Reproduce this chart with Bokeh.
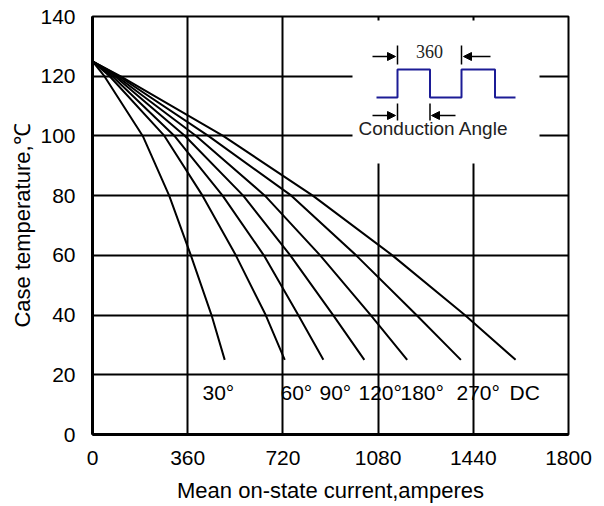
from bokeh.plotting import figure
from bokeh.models import Range1d, FixedTicker, ColumnDataSource, Arrow, NormalHead, Label
from bokeh.core.properties import value
from bokeh.embed import file_html
from bokeh.resources import INLINE

# ---------------- data ----------------
temps = [125, 120, 100, 80, 60, 40, 25]          # case temperature, degC
cur_30 = [0, 45, 190, 290, 372, 450, 500]
cur_60 = [0, 65, 272, 416, 542, 655, 727]
cur_90 = [0, 75, 310, 492, 648, 778, 873]
cur_120 = [0, 85, 350, 570, 748, 910, 1028]
cur_180 = [0, 92, 392, 652, 861, 1052, 1190]
cur_270 = [0, 100, 438, 752, 997, 1225, 1393]
cur_dc = [0, 105, 494, 833, 1134, 1408, 1600]
series = [cur_30, cur_60, cur_90, cur_120, cur_180, cur_270, cur_dc]
curve_labels = ["30°", "60°", "90°", "120°", "180°", "270°", "DC"]
x_ticks = [0, 360, 720, 1080, 1440, 1800]
y_ticks = [0, 20, 40, 60, 80, 100, 120, 140]

# ---------------- layout helpers ----------------
FONT = "Liberation Sans"
W, H = 604, 506
FL, FR, FT, FB = 92, 568, 16, 434   # frame edges in figure px


def dx(px):  # reference px -> data x
    return (px - 92) / (568 - 92) * 1800


def dy(py):  # reference px -> data y
    return (434 - py) / (434 - 16) * 140


p = figure(width=W, height=H, output_backend="svg", toolbar_location=None,
           x_range=Range1d(0, 1800), y_range=Range1d(0, 140),
           min_border_left=FL, min_border_right=W - FR,
           min_border_top=FT, min_border_bottom=H - FB)
p.background_fill_color = "white"
p.border_fill_color = "white"
p.outline_line_color = "black"
p.outline_line_width = 2
p.outline_line_alpha = 1

for ax, ticks in ((p.xaxis, x_ticks), (p.yaxis, y_ticks)):
    ax.ticker = FixedTicker(ticks=ticks)
    ax.axis_line_width = 3
    ax.axis_line_color = "black"
    ax.major_tick_line_color = None
    ax.minor_tick_line_color = None
    ax.major_tick_out = 0
    ax.major_tick_in = 0
    ax.major_label_text_font = FONT
    ax.major_label_text_font_size = "21px"
    ax.major_label_text_color = "black"
    ax.axis_label_text_font = FONT
    ax.axis_label_text_font_size = "22px"
    ax.axis_label_text_font_style = "normal"
    ax.axis_label_text_color = "black"

p.xaxis.axis_label = "Mean on-state current,amperes"
p.yaxis.axis_label = "Case temperature,℃"
p.xaxis.major_label_standoff = 16
p.xaxis.axis_label_standoff = 10
p.yaxis.major_label_standoff = 17
p.yaxis.axis_label_standoff = 2

p.xgrid.ticker = FixedTicker(ticks=x_ticks[1:-1])
p.ygrid.ticker = FixedTicker(ticks=y_ticks[1:-1])
for g in (p.xgrid, p.ygrid):
    g.grid_line_color = "black"
    g.grid_line_width = 2
    g.grid_line_alpha = 1

# curves
for cur in series:
    p.line(cur, temps, line_color="black", line_width=2, line_join="round")

# curve labels
label_x = [dx(202), dx(280), dx(319), dx(358), dx(400), dx(456), dx(509)]
label_y = [dy(392)] * len(curve_labels)
src = ColumnDataSource(dict(x=label_x, y=label_y, t=curve_labels))
p.text(x="x", y="y", text="t", source=src, text_font=value(FONT),
       text_font_size="21px", text_baseline="middle", text_align="left",
       text_color="black")

# ---------------- inset (waveform) ----------------
p.quad(left=dx(352), right=dx(539), bottom=dy(163), top=dy(20),
       fill_color="white", line_color=None)

wave_px = [376, 397, 397, 429.5, 429.5, 461, 461, 494.5, 494.5, 515]
wave_py = [97, 97, 69, 69, 97, 97, 69, 69, 97, 97]
p.line([dx(v) for v in wave_px], [dy(v) for v in wave_py],
       line_color="#1c1c96", line_width=2)

bars = [(397, 45, 64), (461, 45, 64), (397, 103, 120), (429.5, 103, 120)]
p.segment(x0=[dx(b[0]) for b in bars], y0=[dy(b[1]) for b in bars],
          x1=[dx(b[0]) for b in bars], y1=[dy(b[2]) for b in bars],
          line_color="black", line_width=1.5)

arrows = [(372, 395, 56), (490, 463, 56), (372, 395, 115), (455, 431, 115)]
for xs, xe, yy in arrows:
    p.add_layout(Arrow(end=NormalHead(size=8, fill_color="black", line_color="black"),
                       x_start=dx(xs), y_start=dy(yy), x_end=dx(xe), y_end=dy(yy),
                       line_color="black", line_width=1.5))

p.add_layout(Label(x=dx(429), y=dy(51), text="360", text_font="Liberation Serif",
                   text_font_size="18px", text_align="center", text_baseline="middle",
                   text_color="#222222"))
p.add_layout(Label(x=dx(433), y=dy(128), text="Conduction Angle", text_font=FONT,
                   text_font_size="19px", text_align="center", text_baseline="middle",
                   text_color="#222222"))

open("out.html", "w").write(file_html(p, INLINE))
